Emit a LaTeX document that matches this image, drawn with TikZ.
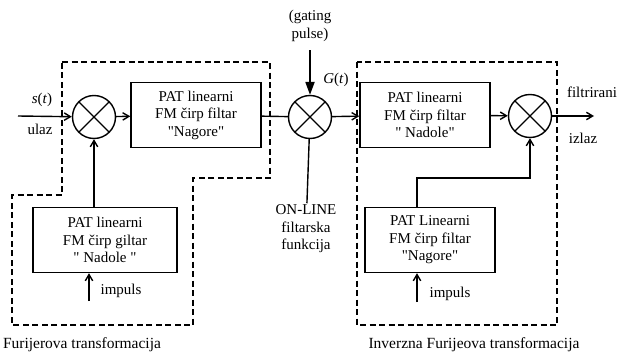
\documentclass[tikz,border=0pt]{standalone}
\usepackage{fontspec}
\setmainfont{Liberation Serif}
\usetikzlibrary{arrows.meta,positioning}

\begin{document}
\begin{tikzpicture}[x=1pt,y=-1pt,line width=1.4pt,
    font=\fontsize{15}{17.5}\selectfont,
    every node/.style={inner sep=1pt},
    block/.style={draw,rectangle,align=center,minimum width=130pt,minimum height=65pt},
    mixer/.style={draw,circle,minimum size=43pt,inner sep=0pt,
      path picture={\draw[line width=1.4pt] (path picture bounding box.north west)--(path picture bounding box.south east)
        (path picture bounding box.north east)--(path picture bounding box.south west);}},
    arr/.style={-{Straight Barb[length=2.2mm,width=2.6mm]}},
    region/.style={dashed,dash pattern=on 6pt off 3.5pt,line width=1.5pt},
    lbl/.style={align=center}]
  \useasboundingbox (0,0) rectangle (619,356);
  % forward path
  \node[mixer] (mL) at (94,117) {};
  \node[block] (fA) at (196,115) {PAT linearni\\FM čirp filtar\\\textquotedbl Nagore\textquotedbl};
  \node[mixer] (mG) at (310,117) {};
  \node[block] (fB) at (425,115) {PAT linearni\\FM čirp filtar\\\textquotedbl{} Nadole\textquotedbl};
  \node[mixer] (mR) at (530,116) {};
  % reference chirps
  \node[block,minimum width=144pt] (fD) at (105,240) {PAT linearni\\FM čirp giltar\\\textquotedbl{} Nadole \textquotedbl};
  \node[block] (fC) at (430,240) {PAT Linearni\\FM čirp filtar\\\textquotedbl Nagore\textquotedbl};
  % in/out ends
  \coordinate (in) at (18,116);
  \coordinate (out) at (594,116);
  \coordinate (gp) at (310,50);
  \coordinate (iD) at (89,301);
  \coordinate (iC) at (417,302);
  \node[lbl] (gate) at (310,26) {(gating\\pulse)};
  \node[lbl] (onl) at (306,229) {ON-LINE\\filtarska\\funkcija};
  \node (st) at (42,100) {\textit{s}(\textit{t})};
  \node (ulaz) at (40,129) {ulaz};
  \node (gt) at (336,80) {\textit{G}(\textit{t})};
  \node (fil) at (592,92) {filtrirani};
  \node (izl) at (583,138) {izlaz};
  \node (impD) at (121,291) {impuls};
  \node (impC) at (450,294) {impuls};
  \node[font=\fontsize{15.5}{18}\selectfont] (ftL) at (82,345) {Furijerova transformacija};
  \node[font=\fontsize{15.5}{18}\selectfont] (ftR) at (474,345) {Inverzna Furijeova transformacija};
  % connectors
  \draw[arr] (in) -- (mL);
  \draw[arr] (mL) -- (fA);
  \draw (fA) -- (mG);
  \draw[arr] (mG) -- (fB);
  \draw[arr] (fB) -- (mR);
  \draw[arr] (mR) -- (out);
  \draw[-{Triangle[length=4.5mm,width=3.2mm]}] (gp) -- (mG);
  \draw (onl) -- (mG);
  \draw[arr] (fD.north -| mL) -- (mL);
  \draw[arr] (fC.north -| iC) -- (iC |- 0,178) -| (mR.south);
  \draw[arr] (iD) -- (iD |- fD.south);
  \draw[arr] (iC) -- (iC |- fC.south);
  % transform regions
  \draw[region] (62,62) -- (270,62) -- (270,178) -- (193,178) -- (193,325)
    -- (12,325) -- (12,195) -- (62,195) -- cycle;
  \draw[region] (357,62) rectangle (557,325);
\end{tikzpicture}
\end{document}
